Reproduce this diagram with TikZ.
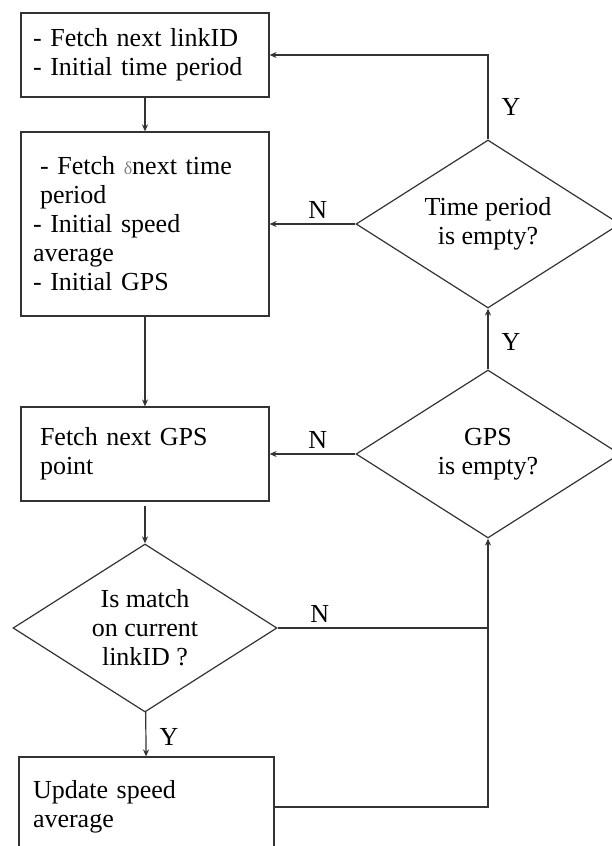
\documentclass[tikz,border=0pt]{standalone}
\usepackage{fontspec}
\setmainfont{Liberation Serif}
\usepackage{xcolor}
\usetikzlibrary{arrows.meta,positioning,shapes.geometric}

\begin{document}
\begin{tikzpicture}[
    x=0.5pt, y=-0.5pt,
    >={Stealth[length=3.5pt,width=3pt]},
    font=\fontsize{13}{14.5}\selectfont,
    link/.style={draw=black!80, line width=0.6pt},
    box/.style={link, rectangle, align=left, text width=112pt,
      inner xsep=6pt, inner ysep=0pt},
    decision/.style={link, diamond, aspect=1.57, minimum width=132pt,
      minimum height=84pt, inner sep=0pt, align=center},
    lbl/.style={inner sep=2.5pt},
    ylbl/.style={lbl, right, xshift=4pt},
  ]
  \useasboundingbox (0,0) rectangle (611,846);

  % Left column
  \node[box, minimum height=42pt] (linkid) at (145,55) {- Fetch next linkID\\- Initial time period};
  \node[box, minimum height=92pt] (period) at (145,224) {\hspace*{3.5pt}- Fetch {\color{gray}\small δ}next time\\\hspace*{3.5pt}period\\- Initial speed\\average\\- Initial GPS};
  \node[box, minimum height=47pt] (gps) at (145,454) {\hspace*{3.5pt}Fetch next GPS\\\hspace*{3.5pt}point};
  \node[decision] (match) at (145,628) {Is match\\on current\\linkID ?};
  \node[box, minimum height=50pt, text width=113.5pt, inner xsep=7pt] (update) at (146.5,807) {Update speed\\average};

  % Right column
  \node[decision] (tempty) at (488,224) {Time period\\is empty?};
  \node[decision] (gempty) at (488,454) {GPS\\is empty?};

  \coordinate (join) at (match.east -| gempty.south);

  % Edges
  \draw[link,->] (linkid) -- (period);
  \draw[link,->] (period) -- (gps);
  \draw[link,->, shorten <=2pt] (gps) -- (match);
  \draw[link,->] (match) -- node[ylbl, pos=0.55] {Y} (update);
  \draw[link] (match) -- node[lbl, above, pos=0.2] {N} (join);
  \draw[link,->] (update) -| (gempty.south);
  \draw[link,->] (gempty) -- node[lbl, above, pos=0.44] {N} (gps);
  \draw[link,->] (gempty) -- node[ylbl, pos=0.45] {Y} (tempty);
  \draw[link,->] (tempty) -- node[lbl, above, pos=0.44] {N} (period);
  \draw[link,->] (tempty) |- node[ylbl, pos=0.19] {Y} (linkid);
\end{tikzpicture}
\end{document}
